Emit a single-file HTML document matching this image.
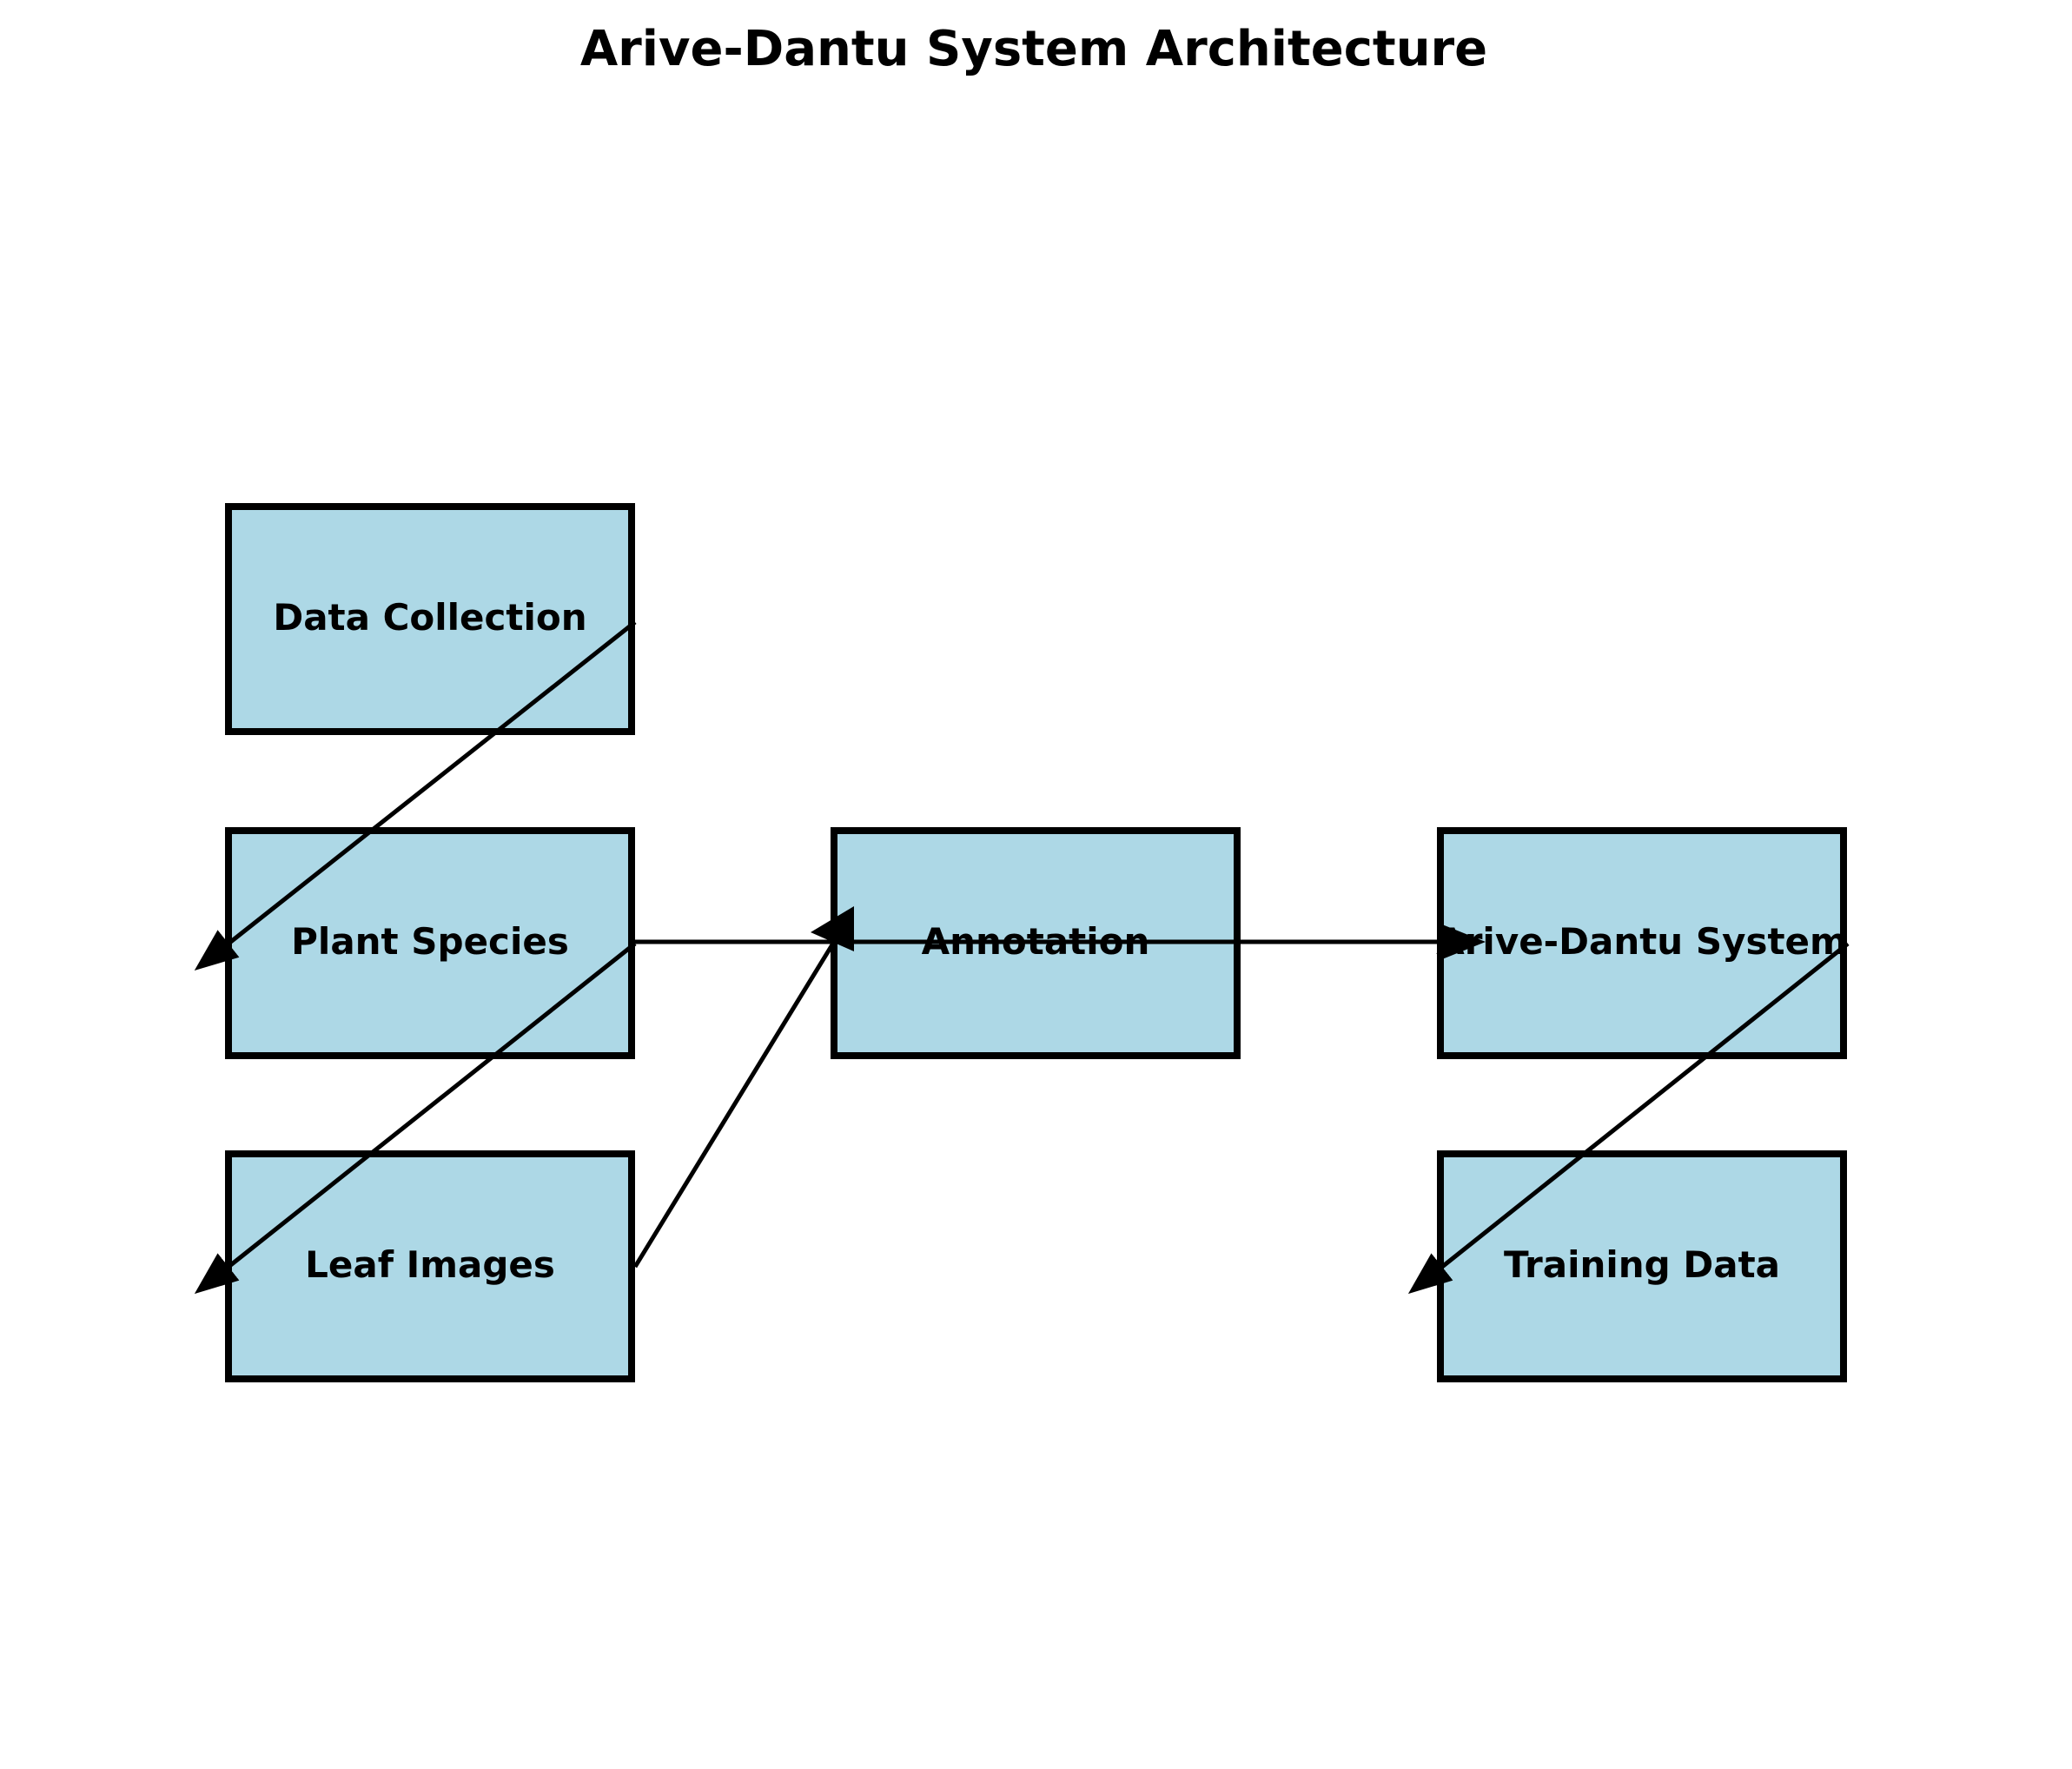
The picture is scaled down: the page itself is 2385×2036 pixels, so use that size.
<!DOCTYPE html>
<html><head><meta charset="utf-8"><style>
html,body{margin:0;padding:0;background:#fff;}
svg{display:block;}
text{font-family:"DejaVu Sans","Liberation Sans",sans-serif;font-weight:bold;fill:#000;}
</style></head><body>
<svg width="2385" height="2036" viewBox="0 0 2385 2036" xmlns="http://www.w3.org/2000/svg">
<defs>
<marker id="ah" markerUnits="userSpaceOnUse" markerWidth="60" markerHeight="50" refX="0" refY="22" orient="auto">
<path d="M0,2 L50,22 L0,42 z" fill="#000"/>
</marker>
</defs>
<rect width="2385" height="2036" fill="#fff"/>
<text x="1190" y="75" font-size="56" text-anchor="middle">Arive-Dantu System Architecture</text>

<g fill="#add8e6" stroke="#000" stroke-width="8">
<rect x="263" y="583" width="464" height="259"/>
<rect x="263" y="956" width="464" height="259"/>
<rect x="263" y="1328" width="464" height="259"/>
<rect x="960" y="956" width="464" height="259"/>
<rect x="1658" y="956" width="464" height="259"/>
<rect x="1658" y="1328" width="464" height="259"/>
</g>

<g font-size="42" text-anchor="middle">
<text x="495" y="725">Data Collection</text>
<text x="495" y="1098">Plant Species</text>
<text x="495" y="1470">Leaf Images</text>
<text x="1192" y="1098">Annotation</text>
<text x="1890" y="1098">Arive-Dantu System</text>
<text x="1890" y="1470">Training Data</text>
</g>

<g stroke="#000" stroke-width="5" fill="none">
<line x1="731" y1="716" x2="263" y2="1086" marker-end="url(#ah)"/>
<line x1="731" y1="1086" x2="263" y2="1458" marker-end="url(#ah)"/>
<line x1="731" y1="1084" x2="1660" y2="1084" marker-end="url(#ah)"/>
<line x1="731" y1="1458" x2="960" y2="1084"/>
<line x1="2127" y1="1086" x2="1660" y2="1458" marker-end="url(#ah)"/>
</g>
<path d="M933,1073 L983,1043 L983,1095 z" fill="#000"/>
</svg>
</body></html>
